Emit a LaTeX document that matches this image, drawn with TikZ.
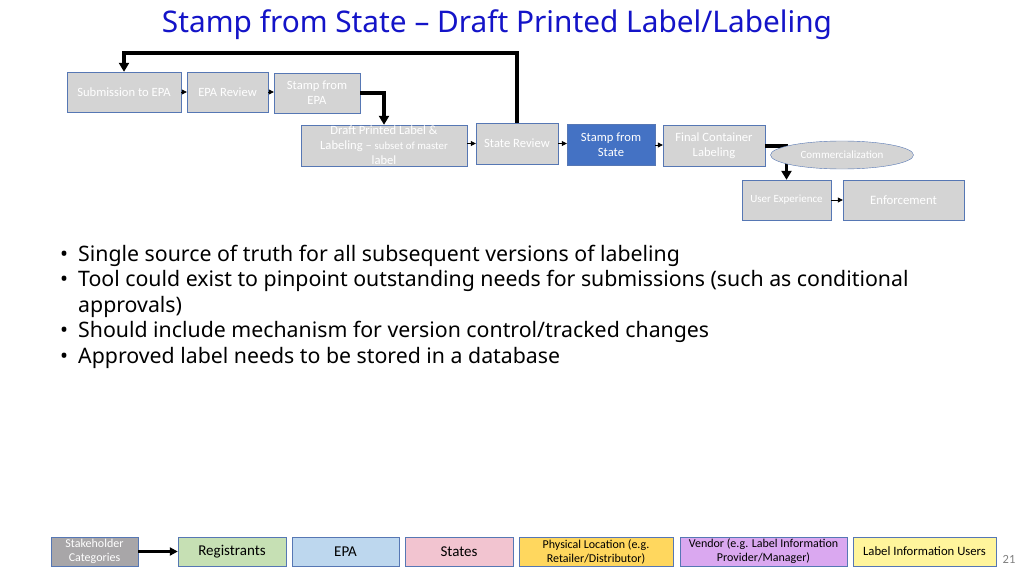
\documentclass[tikz,border=0pt]{standalone}
\usepackage{fontspec}
\setmainfont{Noto Sans}
\newfontfamily\boxfont{Carlito}
\usetikzlibrary{shapes.geometric,arrows.meta}

\definecolor{edgeblue}{HTML}{5677B4}
\definecolor{boxgray}{HTML}{D4D4D4}
\definecolor{stampblue}{HTML}{4472C4}
\definecolor{titleblue}{HTML}{1414C8}
\definecolor{catgray}{HTML}{A8A6A8}
\definecolor{reggreen}{HTML}{C6E0B4}
\definecolor{epablue}{HTML}{BDD7EE}
\definecolor{statepink}{HTML}{F2C4D0}
\definecolor{physorange}{HTML}{FFD75E}
\definecolor{vendorlilac}{HTML}{DAA8F0}
\definecolor{useryellow}{HTML}{FFF59C}

\tikzset{
  stepbox/.style={draw=edgeblue, fill=boxgray, text=white, inner sep=1pt, align=center,
    font=\boxfont\fontsize{12.6}{15}\selectfont},
  catbox/.style={draw=edgeblue, text=black, minimum height=29, inner sep=1pt, align=center,
    font=\boxfont\fontsize{15}{16}\selectfont},
  smallcat/.style={catbox, font=\boxfont\fontsize{12}{14}\selectfont},
  thinarrow/.style={-{Triangle[length=5pt,width=5pt]}, line width=0.8pt},
  thickarrow/.style={-{Triangle[length=9pt,width=10pt]}, line width=3.2pt},
}

\begin{document}
\begin{tikzpicture}[x=1pt,y=-1pt]
  %%%%% FRAME %%%%%
  \useasboundingbox[fill=white] (0,0) rectangle (1024,575);

  \node[text=titleblue, font=\fontsize{29.8}{32}\selectfont] (title) at (497,25)
    {Stamp from State – Draft Printed Label/Labeling};

  %%%%% PROCESS %%%%%
  \node[stepbox, minimum width=114, minimum height=40] (sub) at (124,92) {Submission to EPA};
  \node[stepbox, minimum width=81, minimum height=40] (epar) at (227.5,92) {EPA Review};
  \node[stepbox, minimum width=86, minimum height=40] (stepa) at (317,93) {Stamp from\\EPA};
  \node[stepbox, minimum width=166, minimum height=41] (draft) at (384,145.5)
    {Draft Printed Label \&\\Labeling – {\fontsize{10.8}{15}\selectfont subset of master}\\label};
  \node[stepbox, minimum width=82, minimum height=41] (stater) at (517,143.5) {State Review};
  \node[stepbox, fill=stampblue, minimum width=88, minimum height=41] (stamps) at (611,145)
    {Stamp from\\State};
  \node[stepbox, minimum width=102, minimum height=41] (final) at (714,146)
    {Final Container\\Labeling};
  \node[stepbox, minimum width=89, minimum height=40, font=\boxfont\fontsize{11}{13}\selectfont]
    (user) at (786.5,200) {User Experience};
  \node[stepbox, minimum width=121, minimum height=40, font=\boxfont\fontsize{12.8}{15}\selectfont]
    (enf) at (903.5,200) {Enforcement};

  \draw[thinarrow] (sub.east) -- (epar.west);
  \draw[thinarrow] (epar.east) -- (stepa.west |- epar.east);
  \draw[thickarrow] (stepa.east) -| (draft.north);
  \draw[thinarrow] (draft.east |- stater.west) -- (stater.west);
  \coordinate (loop) at (517,53);
  \draw[thickarrow] (stater.north) -- (loop) -| (sub.north);
  \draw[thinarrow] (stater.east) -- (stamps.west |- stater.east);
  \draw[thinarrow] (stamps.east) -- (final.west |- stamps.east);
  \draw[thickarrow] (final.east) -| (user.north);
  \draw[thinarrow] (user.east) -- (enf.west);

  \node[stepbox, ellipse, minimum width=143, minimum height=28,
    font=\boxfont\fontsize{11}{13}\selectfont] (comm) at (842,155) {Commercialization};

  %%%%% NOTES %%%%%
  \node[anchor=north west, align=left, inner sep=0pt, font=\fontsize{21.3}{25.5}\selectfont]
    (notes) at (60,245) {%
    \makebox[18pt][l]{•}Single source of truth for all subsequent versions of labeling\\
    \makebox[18pt][l]{•}Tool could exist to pinpoint outstanding needs for submissions (such as conditional\\
    \makebox[18pt][l]{}approvals)\\
    \makebox[18pt][l]{•}Should include mechanism for version control/tracked changes\\
    \makebox[18pt][l]{•}Approved label needs to be stored in a database};

  %%%%% STAKEHOLDERS %%%%%
  \node[smallcat, fill=catgray, text=white, minimum width=87] (stake) at (94.5,551.5)
    {Stakeholder\\Categories};
  \node[catbox, fill=reggreen, minimum width=108] (reg) at (232,551.5) {Registrants};
  \node[catbox, fill=epablue, minimum width=107] (epa) at (345.5,551.5) {EPA};
  \node[catbox, fill=statepink, minimum width=108] (states) at (459,551.5) {States};
  \node[smallcat, fill=physorange, minimum width=154] (phys) at (596,551.5)
    {Physical Location (e.g.\\Retailer/Distributor)};
  \node[smallcat, fill=vendorlilac, minimum width=167] (vendor) at (763.5,551.5)
    {Vendor (e.g. Label Information\\Provider/Manager)};
  \node[smallcat, fill=useryellow, minimum width=143, font=\boxfont\fontsize{12.7}{14}\selectfont]
    (users) at (924.5,551.5) {Label Information Users};

  \draw[-{Triangle[length=8pt,width=8pt]}, line width=2.2pt] (stake.east) -- (reg.west);

  \node[text=black!50, font=\boxfont\fontsize{12.5}{14}\selectfont] (page) at (1009,559) {21};
\end{tikzpicture}
\end{document}
